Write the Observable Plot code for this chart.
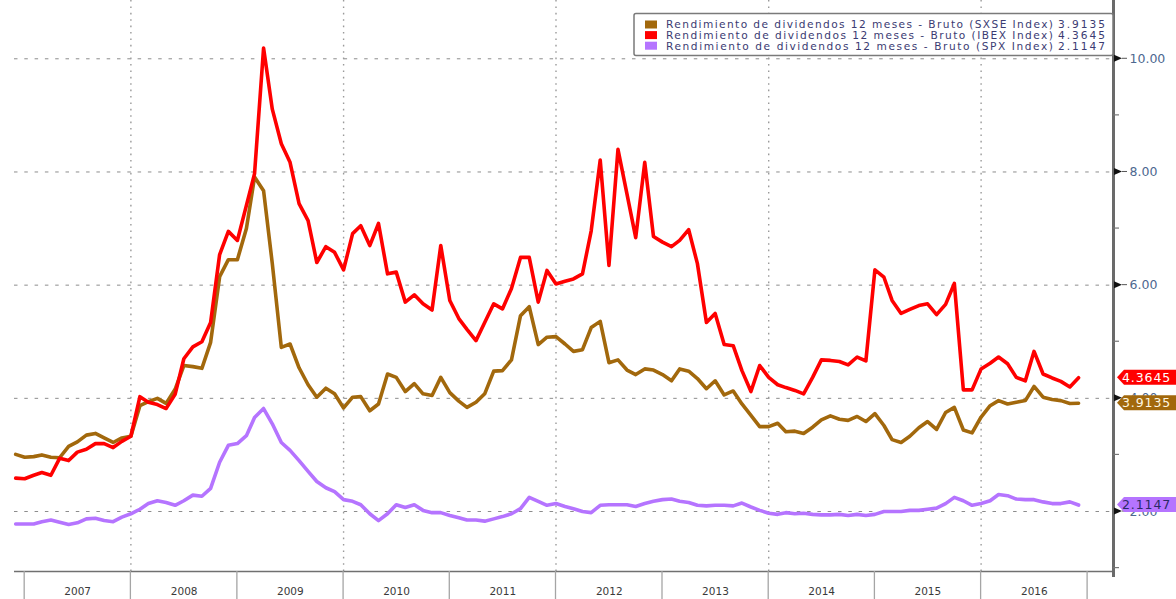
<!DOCTYPE html>
<html>
<head>
<meta charset="utf-8">
<script src="https://cdn.jsdelivr.net/npm/d3@7"></script>
<script src="https://cdn.jsdelivr.net/npm/@observablehq/plot@0.6"></script>
<style>
html,body{margin:0;padding:0;background:#fff;}
#chart svg{display:block;}
</style>
</head>
<body>
<div id="chart"></div>
<script>
// ---------- data (monthly, Dec 2006 .. Dec 2016) ----------
const startMonth = "2006-12";
const seriesNames = [
  "Rendimiento de dividendos 12 meses - Bruto (SXSE Index)",
  "Rendimiento de dividendos 12 meses - Bruto (IBEX Index)",
  "Rendimiento de dividendos 12 meses - Bruto (SPX Index)"
];
const lastLabels = ["3.9135", "4.3645", "2.1147"];

const sxse = [3.01,
  2.96, 2.97, 3.00, 2.96, 2.95, 3.15, 3.23, 3.35, 3.38, 3.30, 3.22, 3.30,
  3.33, 3.87, 3.94, 4.00, 3.91, 4.16, 4.58, 4.56, 4.53, 4.99, 6.15, 6.45,
  6.45, 7.00, 7.91, 7.67, 6.38, 4.90, 4.96, 4.54, 4.24, 4.02, 4.18, 4.08,
  3.83, 4.02, 4.03, 3.78, 3.90, 4.43, 4.37, 4.12, 4.26, 4.08, 4.05, 4.37,
  4.10, 3.95, 3.84, 3.93, 4.08, 4.48, 4.49, 4.68, 5.46, 5.62, 4.95, 5.08,
  5.09, 4.96, 4.83, 4.86, 5.25, 5.36, 4.63, 4.68, 4.50, 4.42, 4.52, 4.50,
  4.42, 4.31, 4.52, 4.48, 4.35, 4.17, 4.31, 4.06, 4.13, 3.90, 3.70, 3.50,
  3.50, 3.56, 3.41, 3.42, 3.38, 3.49, 3.62, 3.69, 3.63, 3.61, 3.68, 3.59,
  3.73, 3.52, 3.27, 3.22, 3.33, 3.48, 3.59, 3.45, 3.75, 3.84, 3.44, 3.39,
  3.67, 3.87, 3.96, 3.90, 3.93, 3.96, 4.21, 4.02, 3.98, 3.96, 3.91, 3.9135];

const ibex = [2.59,
  2.58, 2.64, 2.69, 2.64, 2.94, 2.90, 3.05, 3.10, 3.20, 3.20, 3.13, 3.24,
  3.33, 4.03, 3.93, 3.89, 3.82, 4.07, 4.70, 4.91, 5.00, 5.34, 6.54, 6.95,
  6.79, 7.41, 7.97, 10.19, 9.11, 8.50, 8.17, 7.44, 7.14, 6.40, 6.68, 6.58,
  6.27, 6.91, 7.05, 6.70, 7.09, 6.20, 6.23, 5.70, 5.83, 5.67, 5.56, 6.70,
  5.73, 5.41, 5.22, 5.02, 5.34, 5.67, 5.58, 5.94, 6.49, 6.49, 5.70, 6.26,
  6.02, 6.07, 6.11, 6.20, 6.96, 8.21, 6.35, 8.40, 7.61, 6.84, 8.17, 6.86,
  6.76, 6.68, 6.79, 6.98, 6.38, 5.34, 5.50, 4.95, 4.93, 4.49, 4.12, 4.58,
  4.37, 4.24, 4.19, 4.14, 4.08, 4.37, 4.68, 4.67, 4.65, 4.59, 4.73, 4.66,
  6.27, 6.14, 5.73, 5.50, 5.57, 5.64, 5.67, 5.48, 5.66, 6.03, 4.15, 4.15,
  4.52, 4.62, 4.73, 4.61, 4.37, 4.31, 4.83, 4.43, 4.36, 4.30, 4.20, 4.3645];

const spx = [1.78,
  1.78, 1.78, 1.82, 1.85, 1.81, 1.77, 1.80, 1.87, 1.88, 1.84, 1.82, 1.90,
  1.96, 2.04, 2.14, 2.19, 2.16, 2.11, 2.19, 2.29, 2.27, 2.41, 2.87, 3.17,
  3.20, 3.34, 3.66, 3.82, 3.55, 3.22, 3.08, 2.90, 2.71, 2.53, 2.42, 2.35,
  2.21, 2.18, 2.12, 1.96, 1.84, 1.96, 2.12, 2.07, 2.12, 2.02, 1.98, 1.98,
  1.93, 1.89, 1.85, 1.85, 1.83, 1.87, 1.91, 1.96, 2.05, 2.25, 2.18, 2.11,
  2.14, 2.09, 2.05, 2.00, 1.98, 2.11, 2.12, 2.12, 2.12, 2.09, 2.14, 2.18,
  2.21, 2.22, 2.18, 2.16, 2.11, 2.10, 2.11, 2.11, 2.10, 2.15, 2.08, 2.02,
  1.97, 1.95, 1.98, 1.96, 1.97, 1.95, 1.94, 1.94, 1.95, 1.93, 1.95, 1.93,
  1.95, 2.00, 2.00, 2.00, 2.02, 2.02, 2.04, 2.06, 2.14, 2.25, 2.19, 2.11,
  2.14, 2.19, 2.30, 2.28, 2.22, 2.21, 2.21, 2.17, 2.14, 2.14, 2.17, 2.1147];

const yearLabels = ["2007","2008","2009","2010","2011","2012","2013","2014","2015","2016"];
const yTicks = [2, 4, 6, 8, 10];
const yMinor = [1, 3, 5, 7, 9];
const gridYears = ["2008","2010","2012","2014","2016"];
const xDomain = ["2006-11-27", "2017-03-31"];
const yDomain = [0.94, 11.03];

// ---------- styles ----------
const colors = ["#a2680c", "#ff0000", "#b574ff"];
const tagText = ["#fff6e0", "#ffffff", "#2a2a66"];

// ---------- build table ----------
const start = new Date(startMonth + "-01T00:00:00Z");
const allSeries = [sxse, ibex, spx];
const rows = allSeries.map((vals, s) =>
  vals.map((v, i) => ({date: d3.utcMonth.offset(start, i), value: v, s})));

const yearStarts = [...yearLabels, "2017"].map(y => new Date(y + "-01-01T00:00:00Z"));
const yearMid = yearLabels.map(y => new Date(y + "-07-02T00:00:00Z"));
const gridDates = gridYears.map(y => new Date(y + "-01-01T00:00:00Z"));

function decorations(index, scales, values, dims) {
  const {x, y} = scales;
  const g = d3.create("svg:g").attr("text-anchor", "start");
  const right = dims.width - dims.marginRight;
  const bottom = dims.height - dims.marginBottom;
  // year boundary ticks in the bottom band
  for (const d of yearStarts) {
    g.append("line").attr("x1", x(d)).attr("x2", x(d))
      .attr("y1", bottom).attr("y2", dims.height)
      .attr("stroke", "#a5a5a5").attr("stroke-width", 1.3);
  }
  // minor ticks on the right axis
  for (const v of yMinor) {
    g.append("line").attr("x1", right).attr("x2", right + 6)
      .attr("y1", y(v)).attr("y2", y(v))
      .attr("stroke", "#777").attr("stroke-width", 1.2);
  }
  // major tick arrows
  for (const v of yTicks) {
    const yy = y(v);
    g.append("path").attr("d", `M${right + 1},${yy - 3.5}L${right + 9},${yy}L${right + 1},${yy + 3.5}Z`).attr("fill", "#111");
    g.append("line").attr("x1", right + 9).attr("x2", right + 14).attr("y1", yy).attr("y2", yy)
      .attr("stroke", "#555").attr("stroke-width", 1);
  }
  // last value tags
  allSeries.forEach((vals, s) => {
    const yy = y(vals[vals.length - 1]);
    const h = 15, tip = right + 4, left = right + 11;
    g.append("path")
      .attr("d", `M${tip},${yy}L${left},${yy - h / 2}L${dims.width + 2},${yy - h / 2}L${dims.width + 2},${yy + h / 2}L${left},${yy + h / 2}Z`)
      .attr("fill", colors[s]);
    g.append("text").attr("x", left - 2).attr("y", yy).attr("dy", "0.37em")
      .attr("text-anchor", "start")
      .attr("fill", tagText[s]).attr("font-size", 12.5).attr("letter-spacing", 0.9)
      .text(lastLabels[s]);
  });
  // legend
  const lx = 634, ly = 13.5, lw = right - lx, lh = 42;
  g.append("rect").attr("x", lx).attr("y", ly).attr("width", lw).attr("height", lh)
    .attr("fill", "#fff").attr("stroke", "#7a7a7a").attr("stroke-width", 1.5).attr("rx", 2);
  seriesNames.forEach((name, s) => {
    const cy = 24.5 + s * 10.6;
    g.append("rect").attr("x", 645).attr("y", cy - 4).attr("width", 12).attr("height", 8).attr("fill", colors[s]);
    g.append("text").attr("x", 666).attr("y", cy).attr("dy", "0.36em")
      .attr("text-anchor", "start")
      .attr("font-size", 10.6).attr("fill", "#3b3b72")
      .attr("textLength", 387).attr("lengthAdjust", "spacing").text(name);
    g.append("text").attr("x", 1058).attr("y", cy).attr("dy", "0.36em")
      .attr("text-anchor", "start")
      .attr("font-size", 10.6).attr("fill", "#3b3b72")
      .attr("textLength", 47).attr("lengthAdjust", "spacing").text(lastLabels[s]);
  });
  return g.node();
}

const chart = Plot.plot({
  width: 1176,
  height: 599,
  marginLeft: 14,
  marginRight: 63,
  marginTop: 0,
  marginBottom: 28,
  style: {background: "#fff", fontFamily: "DejaVu Sans, sans-serif"},
  x: {type: "utc", domain: xDomain.map(d => new Date(d + "T00:00:00Z")), axis: null},
  y: {domain: yDomain, axis: null},
  marks: [
    Plot.ruleY(yTicks, {stroke: "#8c8c8c", strokeDasharray: "3.5,6.8", strokeWidth: 1}),
    Plot.ruleX(gridDates, {stroke: "#9a9a9a", strokeDasharray: "1.6,4.8", strokeWidth: 1.4}),
    Plot.ruleY([yDomain[0]], {stroke: "#707070", strokeWidth: 1.5}),
    Plot.line(rows[0], {x: "date", y: "value", stroke: colors[0], strokeWidth: 3.6, strokeLinejoin: "round"}),
    Plot.line(rows[1], {x: "date", y: "value", stroke: colors[1], strokeWidth: 3.6, strokeLinejoin: "round"}),
    Plot.line(rows[2], {x: "date", y: "value", stroke: colors[2], strokeWidth: 3.6, strokeLinejoin: "round"}),
    Plot.text(yTicks, {y: d => d, frameAnchor: "right", dx: 16, textAnchor: "start",
      text: d => d3.format(".2f")(d), fill: "#4d6890", fontSize: 12.5,
      style: {letterSpacing: "1px"}}),
    Plot.text(yearMid, {x: d => d, y: () => yDomain[0], dy: 20, text: d => d3.utcFormat("%Y")(d),
      fill: "#3a3a3a", fontSize: 10.5}),
    Plot.ruleX([new Date(xDomain[1] + "T00:00:00Z")], {stroke: "#6a6a6a", strokeWidth: 3, insetBottom: -6}),
    decorations
  ]
});
document.getElementById("chart").appendChild(chart);
</script>
</body>
</html>
